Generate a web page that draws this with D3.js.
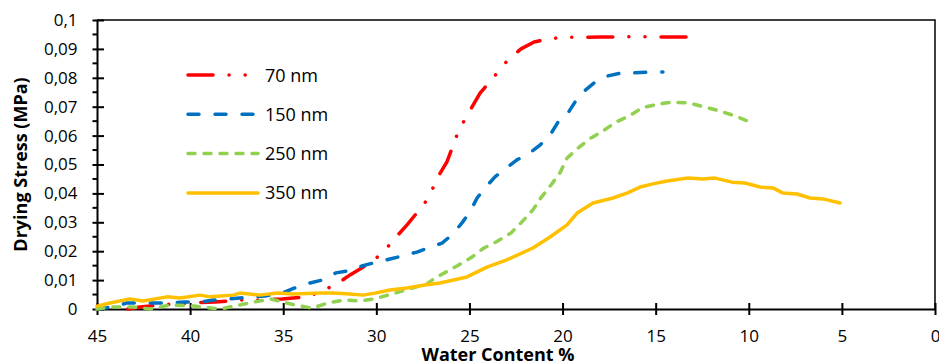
<!DOCTYPE html>
<html>
<head>
<meta charset="utf-8">
<script src="https://cdn.jsdelivr.net/npm/d3@7"></script>
<style>
  body { margin: 0; background: #fff; }
  text { font-family: "Open Sans", sans-serif; fill: #000; }
</style>
</head>
<body>
<div id="chart"></div>
<script>
// water content (%) and drying stress (MPa)
var water70  = [43.34, 42.69, 41.62, 40.01, 38.66, 37.32, 36.25, 35.07, 33.72, 32.92, 32.11, 31.41, 30.18, 29.53, 28.94, 28.35, 27.39, 27.01, 26.63, 26.21, 25.67, 25.29, 24.86, 24.43, 23.47, 22.93, 22.23, 21.53, 20.78, 20.03, 17.99, 15.84, 13.37];
var stress70 = [0, 0.0007, 0.0014, 0.0021, 0.0024, 0.0031, 0.0031, 0.0035, 0.0042, 0.0062, 0.0087, 0.0118, 0.0166, 0.0204, 0.0249, 0.0291, 0.0367, 0.0412, 0.0464, 0.0509, 0.0602, 0.0651, 0.0699, 0.0747, 0.0820, 0.0862, 0.0900, 0.0924, 0.0934, 0.0940, 0.0941, 0.0942, 0.0941];

var water150  = [45, 44.14, 43.39, 42.15, 40.97, 40.27, 39.47, 38.77, 37.32, 35.98, 34.90, 34.37, 33.56, 32.92, 32.17, 31.57, 30.77, 30.18, 29.27, 28.62, 27.82, 27.23, 26.47, 25.88, 25.40, 24.97, 24.59, 24.16, 23.63, 23.09, 22.45, 21.85, 21.21, 20.67, 20.24, 19.71, 19.33, 18.90, 18.26, 17.61, 16.81, 16.22, 15.30, 14.61];
var stress150 = [0, 0.0007, 0.0021, 0.0021, 0.0021, 0.0024, 0.0024, 0.0031, 0.0038, 0.0045, 0.0059, 0.0073, 0.0090, 0.0100, 0.0125, 0.0131, 0.0149, 0.0159, 0.0173, 0.0183, 0.0197, 0.0211, 0.0228, 0.0260, 0.0298, 0.0336, 0.0384, 0.0419, 0.0457, 0.0484, 0.0516, 0.0536, 0.0567, 0.0602, 0.0647, 0.0678, 0.0716, 0.0751, 0.0785, 0.0806, 0.0817, 0.0817, 0.0820, 0.0820];

var water250  = [45, 44.30, 43.07, 42.15, 41.08, 39.79, 38.39, 37.10, 35.71, 35.01, 34.37, 33.46, 32.60, 31.74, 30.88, 30.13, 29.37, 28.41, 27.28, 26.85, 25.67, 24.86, 24.22, 23.57, 22.77, 22.23, 21.59, 21.21, 20.62, 20.14, 19.76, 19.17, 18.47, 17.83, 17.13, 16.43, 15.73, 14.87, 14.12, 13.21, 12.40, 11.54, 10.74, 9.93, 9.77];
var stress250 = [0, 0.0007, 0.0007, 0, 0.0014, 0.0010, 0, 0.0017, 0.0035, 0.0024, 0.0014, 0.0003, 0.0021, 0.0031, 0.0028, 0.0035, 0.0048, 0.0066, 0.0087, 0.0107, 0.0149, 0.0180, 0.0211, 0.0232, 0.0263, 0.0298, 0.0343, 0.0381, 0.0429, 0.0471, 0.0522, 0.0557, 0.0592, 0.0616, 0.0647, 0.0668, 0.0696, 0.0709, 0.0716, 0.0713, 0.0699, 0.0685, 0.0668, 0.0647, 0.0637];

var water350  = [45, 44.30, 43.23, 42.53, 41.24, 40.54, 39.47, 38.93, 37.70, 37.32, 36.25, 35.33, 34.47, 33.02, 32.33, 31.41, 30.72, 30.07, 29.27, 28.35, 27.39, 26.58, 25.13, 24.06, 22.99, 21.59, 20.67, 19.76, 19.22, 18.36, 17.29, 16.54, 15.84, 15.14, 14.39, 13.26, 12.46, 11.81, 10.90, 10.20, 9.40, 8.70, 8.16, 7.41, 6.71, 6.01, 5.10];
var stress350 = [0.0010, 0.0021, 0.0035, 0.0028, 0.0042, 0.0038, 0.0048, 0.0042, 0.0048, 0.0055, 0.0048, 0.0055, 0.0052, 0.0055, 0.0055, 0.0052, 0.0048, 0.0055, 0.0066, 0.0073, 0.0083, 0.0090, 0.0111, 0.0145, 0.0170, 0.0211, 0.0249, 0.0291, 0.0332, 0.0367, 0.0384, 0.0401, 0.0422, 0.0433, 0.0443, 0.0453, 0.0450, 0.0453, 0.0439, 0.0436, 0.0422, 0.0419, 0.0401, 0.0398, 0.0384, 0.0381, 0.0367];

var seriesNames = ["70 nm", "150 nm", "250 nm", "350 nm"];
var xTicks = [45, 40, 35, 30, 25, 20, 15, 10, 5, 0];
var yTicks = [0, 0.01, 0.02, 0.03, 0.04, 0.05, 0.06, 0.07, 0.08, 0.09, 0.1];
var yTickLabels = ["0", "0,01", "0,02", "0,03", "0,04", "0,05", "0,06", "0,07", "0,08", "0,09", "0,1"];

var width = 939, height = 364;
var margin = {top: 20, right: 4, bottom: 55, left: 97};
var plotW = width - margin.left - margin.right;
var plotH = height - margin.top - margin.bottom;

var series = [
  {name: seriesNames[0], w: water70,  s: stress70,  color: "#FF0000", dash: "25,16,0.1,16,0.1,16"},
  {name: seriesNames[1], w: water150, s: stress150, color: "#0070C0", dash: "11,16"},
  {name: seriesNames[2], w: water250, s: stress250, color: "#92D050", dash: "7,9"},
  {name: seriesNames[3], w: water350, s: stress350, color: "#FFC000", dash: null}
];

var x = d3.scaleLinear().domain([45, 0]).range([0, plotW]);
var y = d3.scaleLinear().domain([0, 0.1]).range([plotH, 0]);

var svg = d3.select("#chart").append("svg")
    .attr("width", width)
    .attr("height", height);

var g = svg.append("g")
    .attr("transform", "translate(" + margin.left + "," + margin.top + ")");

// frame top and right
g.append("path")
    .attr("d", "M0,0H" + plotW + "V" + plotH)
    .attr("fill", "none")
    .attr("stroke", "#000")
    .attr("stroke-width", 1.5);

// minor y ticks
g.selectAll(".minor")
    .data(d3.range(0.005, 0.1, 0.01))
    .enter().append("line")
    .attr("x1", -4.5).attr("x2", 0)
    .attr("y1", function(d){ return y(d); })
    .attr("y2", function(d){ return y(d); })
    .attr("stroke", "#000").attr("stroke-width", 2);

// y axis
var yAxis = g.append("g")
    .call(d3.axisLeft(y).tickValues(yTicks)
      .tickFormat(function(d, i){ return yTickLabels[i]; })
      .tickSizeInner(4.5).tickSizeOuter(0).tickPadding(15));
yAxis.select(".domain").attr("stroke-width", 2);
yAxis.selectAll(".tick line").attr("x2", 7).attr("x1", -4.5).attr("stroke-width", 2);
yAxis.selectAll(".tick text").style("font-size", "17px").attr("fill", "#000");

// x axis
var xAxis = g.append("g")
    .attr("transform", "translate(0," + plotH + ")")
    .call(d3.axisBottom(x).tickValues(xTicks)
      .tickSizeInner(6).tickSizeOuter(0).tickPadding(15));
xAxis.select(".domain").attr("stroke-width", 2);
xAxis.selectAll(".tick line").attr("y1", -6).attr("y2", 6).attr("stroke-width", 2);
xAxis.selectAll(".tick text").style("font-size", "17px").attr("fill", "#000");

// lines
var line = d3.line()
    .x(function(d){ return x(d[0]); })
    .y(function(d){ return y(d[1]); });

series.forEach(function(sr){
  var pts = sr.w.map(function(w, i){ return [w, sr.s[i]]; });
  g.append("path")
    .datum(pts)
    .attr("d", line)
    .attr("fill", "none")
    .attr("stroke", sr.color)
    .attr("stroke-width", 3.5)
    .attr("stroke-linecap", "round")
    .attr("stroke-linejoin", "round")
    .attr("stroke-dasharray", sr.dash);
});

// legend
var legend = svg.append("g").attr("transform", "translate(188,75)");
var rows = legend.selectAll("g").data(series).enter().append("g")
    .attr("transform", function(d, i){ return "translate(0," + (i * 39.3) + ")"; });
rows.append("line")
    .attr("x1", 0).attr("x2", 70)
    .attr("stroke", function(d){ return d.color; })
    .attr("stroke-width", 3.5)
    .attr("stroke-linecap", "round")
    .attr("stroke-dasharray", function(d){ return d.dash; });
rows.append("text")
    .attr("x", 77).attr("y", 6.5)
    .style("font-size", "18px")
    .text(function(d){ return d.name; });

// axis titles
svg.append("text")
    .attr("x", margin.left + plotW / 2 - 18).attr("y", 361)
    .attr("text-anchor", "middle")
    .style("font-size", "18px").style("font-weight", "bold")
    .text("Water Content %");

svg.append("text")
    .attr("transform", "translate(27," + (margin.top + plotH / 2) + ") rotate(-90)")
    .attr("text-anchor", "middle")
    .style("font-size", "18px").style("font-weight", "bold")
    .text("Drying Stress  (MPa)");
</script>
</body>
</html>
